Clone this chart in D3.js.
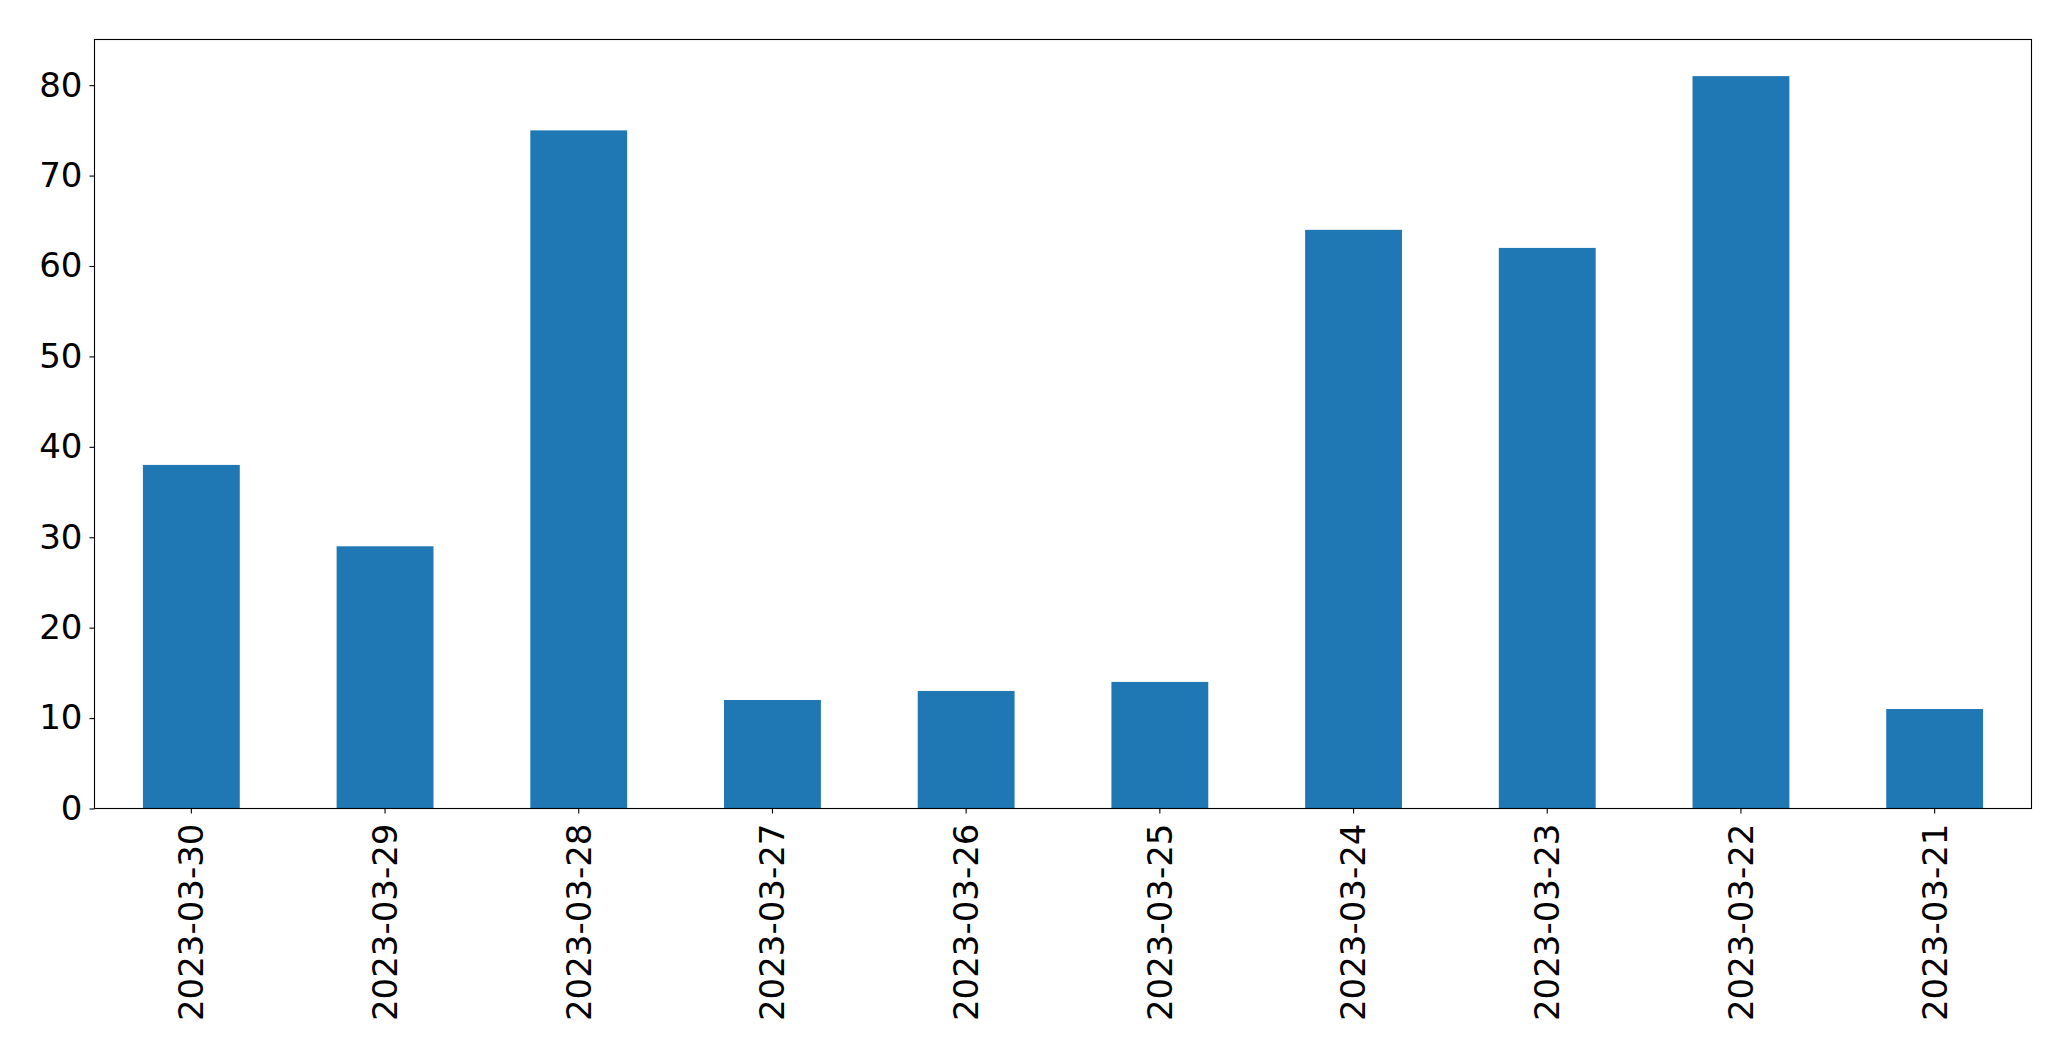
<!DOCTYPE html>
<html>
<head>
<meta charset="utf-8">
<script src="https://cdn.jsdelivr.net/npm/d3@7"></script>
<style>
  body { margin: 0; background: #fff; }
  svg { display: block; }
  .axis text { font-family: "DejaVu Sans", sans-serif; font-size: 34px; fill: #000; }
  .axis line, .axis path { stroke: #000; stroke-width: 1.1; }
</style>
</head>
<body>
<div id="chart"></div>
<script>
var chartWidth = 2071
var chartHeight = 1061

// data
var dates = ["2023-03-30", "2023-03-29", "2023-03-28", "2023-03-27", "2023-03-26",
             "2023-03-25", "2023-03-24", "2023-03-23", "2023-03-22", "2023-03-21"]
var counts = [38, 29, 75, 12, 13, 14, 64, 62, 81, 11]
var yTicks = [0, 10, 20, 30, 40, 50, 60, 70, 80]

// plot area (window.top is reserved, so use other names)
var plotLeft = 94.5, plotRight = 2031.5, plotTop = 39.5, plotBottom = 808.5

var svg = d3.select("#chart").append("svg")
    .attr("width", chartWidth)
    .attr("height", chartHeight)

// band scale with matplotlib-like padding: bars are half the slot
var x = d3.scaleBand()
    .domain(dates)
    .range([plotLeft, plotRight])
    .paddingInner(0.5)
    .paddingOuter(0.25)

var y = d3.scaleLinear()
    .domain([0, d3.max(counts) * 1.05])
    .range([plotBottom, plotTop])

svg.selectAll("rect.bar")
    .data(counts)
    .enter()
    .append("rect")
    .attr("class", "bar")
    .attr("x", function(d, i) { return x(dates[i]); })
    .attr("y", function(d) { return y(d); })
    .attr("width", x.bandwidth())
    .attr("height", function(d) { return y(0) - y(d); })
    .style("fill", "#1f77b4")

var lAxis = d3.axisLeft(y).tickValues(yTicks).tickSize(5).tickPadding(7).tickFormat(d3.format("d"))
var bAxis = d3.axisBottom(x).tickSize(5).tickPadding(6)

svg.append("g")
    .attr("class", "axis")
    .attr("transform", "translate(" + plotLeft + ",0)")
    .call(lAxis)
    .select(".domain").remove()

var gx = svg.append("g")
    .attr("class", "axis")
    .attr("transform", "translate(0," + plotBottom + ")")
    .call(bAxis)
gx.select(".domain").remove()
gx.selectAll("text")
    .attr("text-anchor", "end")
    .attr("dy", "0.35em")
    .attr("x", -15)
    .attr("y", 0)
    .attr("transform", "rotate(-90)")

// frame around the plot area
svg.append("rect")
    .attr("x", plotLeft)
    .attr("y", plotTop)
    .attr("width", plotRight - plotLeft)
    .attr("height", plotBottom - plotTop)
    .style("fill", "none")
    .style("stroke", "#000")
    .style("stroke-width", 1.1)
</script>
</body>
</html>
